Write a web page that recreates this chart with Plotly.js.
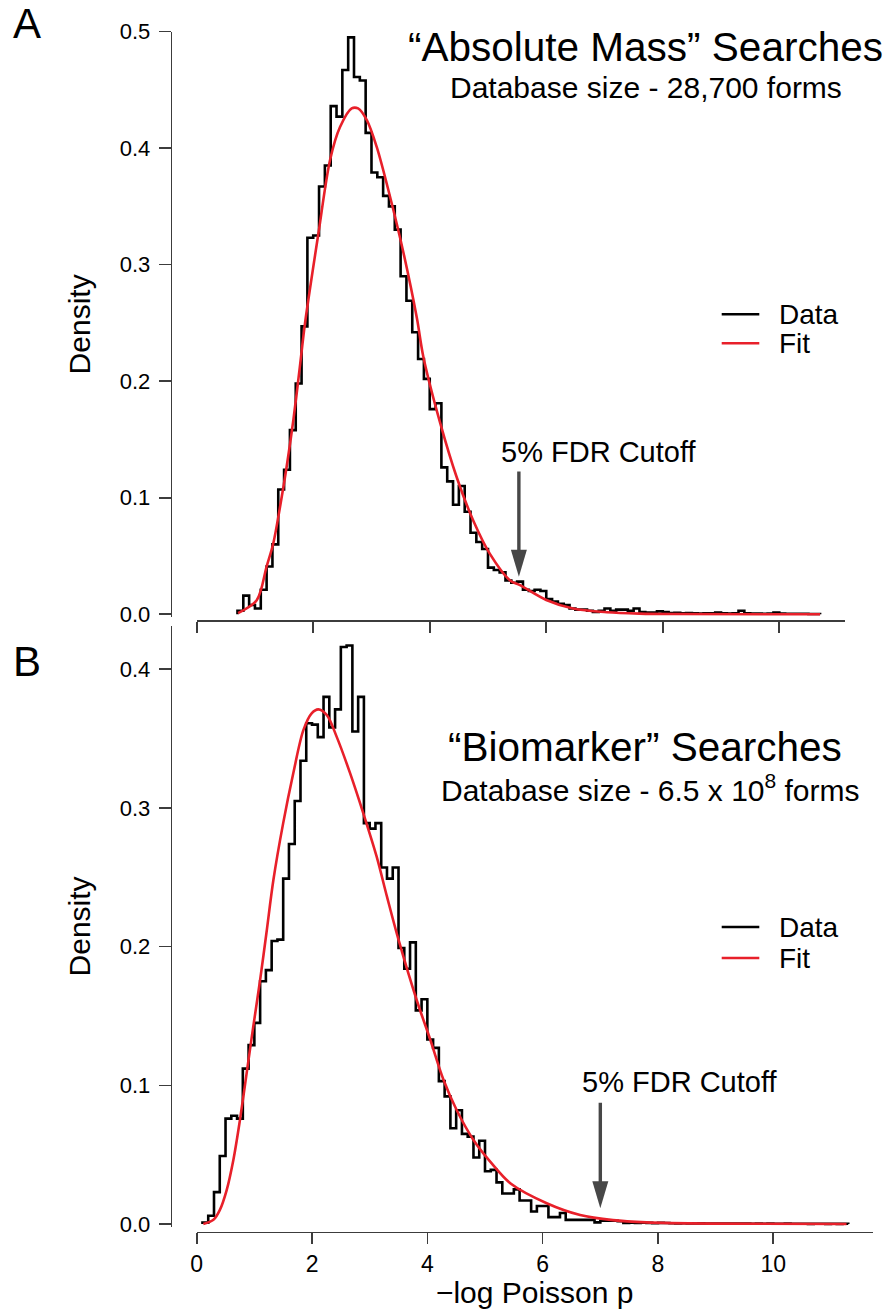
<!DOCTYPE html>
<html>
<head>
<meta charset="utf-8">
<script src="https://cdn.plot.ly/plotly-3.0.1.min.js"></script>
<style>html,body{margin:0;padding:0;background:#fff;}</style>
</head>
<body>
<div id="chart" style="width:889px;height:1309px;"></div>
<script>
// ---------------- DATA ----------------
const binWidth = 0.1;

// Panel A: "Absolute Mass" searches, histogram density (bins of 0.1 starting at 0.7)
const topBinStart = 0.7;
const topDensity = [
  0.003,0.016,0.008,0.005,0.021,0.041,0.060,0.107,0.124,0.158,
  0.198,0.247,0.323,0.325,0.367,0.385,0.436,0.427,0.467,0.495,
  0.461,0.458,0.413,0.379,0.375,0.359,0.350,0.330,0.290,0.269,
  0.242,0.219,0.202,0.176,0.181,0.126,0.114,0.094,0.110,0.088,
  0.070,0.062,0.056,0.040,0.038,0.036,0.029,0.027,0.028,0.021,
  0.020,0.021,0.020,0.013,0.011,0.009,0.008,0.005,0.004,0.004,
  0.003,0.002,0.003,0.005,0.003,0.004,0.004,0.003,0.005,0.002,
  0.0015,0.0015,0.0025,0.002,
  0.001,0.0012,0.0008,0.001,0.0009,0.0007,0.0008,0.0008,0.0015,0.0008,
  0.0006,0.0008,0.003,0.0008,0.0006,0.0007,0.0005,0.0006,0.0015,0.0006,
  0.0005,0.0004,0.0005,0.0004,0.0003,0.0003
];
// Panel A fit curve
const topFitX = [0.71,1.03,1.20,1.315,1.43,1.545,1.66,1.77,1.86,2.09,2.29,2.46,2.66,2.77,2.92,3.09,3.32,3.55,3.78,3.89,4.18,4.46,4.75,5.03,5.38,5.55,6.0,6.46,7.04,7.6,8.2,10.7];
const topFitY = [0.001,0.012,0.041,0.061,0.092,0.127,0.167,0.212,0.250,0.327,0.390,0.418,0.434,0.434,0.424,0.401,0.358,0.310,0.254,0.221,0.164,0.118,0.080,0.052,0.029,0.025,0.0123,0.005,0.0018,0.0006,0.0002,0.0];

// Panel B: "Biomarker" searches, histogram density (bins of 0.1 starting at 0.1)
const bottomBinStart = 0.1;
const bottomDensity = [
  0.001,0.006,0.023,0.049,0.076,0.078,0.076,0.112,0.129,0.145,
  0.175,0.183,0.204,0.205,0.249,0.274,0.305,0.334,0.361,0.360,
  0.351,0.380,0.358,0.371,0.416,0.417,0.355,0.380,0.289,0.285,
  0.289,0.257,0.249,0.257,0.199,0.184,0.203,0.154,0.162,0.133,
  0.127,0.103,0.092,0.069,0.082,0.065,0.063,0.048,0.060,0.038,
  0.039,0.030,0.022,0.022,0.025,0.017,0.017,0.009,0.013,0.013,
  0.005,0.005,0.008,0.003,0.003,0.003,0.003,0.003,0.0012,0.0024,
  0.0024,0.0024,0.002,
  0.0008,0.001,0.0007,0.0009,0.0008,0.0006,0.0008,0.0007,0.0006,0.0005,
  0.0006,0.0005,0.0004,0.0005,0.0004,0.0004,0.0003,0.0004,0.0003,0.0003,
  0.0004,0.0003,0.0002,0.0003,0.0002,0.0003,0.0002,0.0002,0.0003,0.0002,
  0.0002,0.0002,0.0001,0.0002,0.0002,0.0001,0.0002,0.0001,0.0002
];
// Panel B fit curve
const bottomFitX = [0.115,0.29,0.40,0.52,0.635,0.75,0.867,0.98,1.10,1.21,1.33,1.50,1.675,1.85,1.99,2.11,2.255,2.43,2.66,2.89,3.12,3.30,3.50,3.815,4.05,4.28,4.51,4.80,5.09,5.45,6.07,6.65,7.22,7.80,8.96,11.27];
const bottomFitY = [0.000,0.003,0.010,0.0245,0.046,0.075,0.109,0.142,0.176,0.210,0.248,0.289,0.325,0.356,0.368,0.371,0.367,0.351,0.325,0.296,0.265,0.236,0.205,0.1615,0.133,0.104,0.082,0.0606,0.045,0.029,0.015,0.0065,0.0028,0.0012,0.0003,0.0];

// Tick labels / texts
const xTickVals = [0,2,4,6,8,10];
const topYTicks = [0,0.1,0.2,0.3,0.4,0.5];
const bottomYTicks = [0,0.1,0.2,0.3,0.4];
const legendLabels = ['Data','Fit'];
const cutoffTop = {x:5.53, tip:0.0323, tail:0.1225, labelX:6.89, labelY:0.1395};
const cutoffBottom = {x:7.0, tip:0.0113, tail:0.0875, labelX:8.38, labelY:0.1026};

// ---------------- BUILD ----------------
function stepTrace(start, vals, xa, ya){
  const xs=[start], ys=[0];
  for(let i=0;i<vals.length;i++){ xs.push(+(start+i*binWidth).toFixed(4)); ys.push(vals[i]); }
  xs.push(+(start+vals.length*binWidth).toFixed(4)); ys.push(0);
  return {x:xs,y:ys,xaxis:xa,yaxis:ya,type:'scatter',mode:'lines',name:'Data',
    line:{shape:'hv',color:'#000',width:2.6},hoverinfo:'skip'};
}
function fitTrace(xs, ys, xa, ya){
  return {x:xs,y:ys,xaxis:xa,yaxis:ya,type:'scatter',mode:'lines',name:'Fit',
    line:{shape:'spline',smoothing:0.9,color:'#e8202a',width:2.6},hoverinfo:'skip'};
}
const data = [
  stepTrace(topBinStart, topDensity, 'x', 'y'),
  fitTrace(topFitX, topFitY, 'x', 'y'),
  stepTrace(bottomBinStart, bottomDensity, 'x2', 'y2'),
  fitTrace(bottomFitX, bottomFitY, 'x2', 'y2')
];

const W=889, H=1309;
const px = v => v/W, py = v => 1 - v/H;
const FONT = 'Liberation Sans, Arial, Helvetica, sans-serif';
const AX = '#3c3c3c';
const ARROW = '#474747';

const baseAxis = {showline:true, linecolor:AX, linewidth:1.6, ticks:'outside', tickcolor:AX, tickwidth:1.6,
  showgrid:false, zeroline:false, anchor:'free', fixedrange:true};

// pixel scales (used for arrow shaft end)
const topYpx = (617.2-31.5)/(0.5+0.0025);
const botYpx = (1226.8-626)/(0.4311+0.002);

const layout = {
  width:W, height:H, margin:{l:0,r:0,t:0,b:0}, showlegend:false,
  paper_bgcolor:'#fff', plot_bgcolor:'rgba(0,0,0,0)',
  font:{family:FONT, color:'#000'},
  xaxis: Object.assign({}, baseAxis, {domain:[px(196.7), px(845)], range:[0,(845-196.7)/58.26],
    position:py(620), ticklen:11, tickvals:xTickVals, showticklabels:false}),
  yaxis: Object.assign({}, baseAxis, {domain:[py(617.2), py(31.5)], range:[-0.0025,0.5],
    position:px(170.7), ticklen:12, tickvals:topYTicks, tickformat:'.1f', ticklabelstandoff:4,
    tickfont:{size:22, family:FONT, color:'#000'},
    title:{text:'Density', font:{size:30, family:FONT, color:'#000'}, standoff:18}}),
  xaxis2: Object.assign({}, baseAxis, {domain:[px(196.7), px(872.7)], range:[0,(872.7-196.7)/57.66],
    position:py(1231.7), ticklen:11, tickvals:xTickVals, ticklabelstandoff:0,
    tickfont:{size:23, family:FONT, color:'#000'},
    title:{text:'\u2212log Poisson p', font:{size:30, family:FONT, color:'#000'}, standoff:8}}),
  yaxis2: Object.assign({}, baseAxis, {domain:[py(1226.8), py(626)], range:[-0.002,0.4311],
    position:px(170.7), ticklen:12, tickvals:bottomYTicks, tickformat:'.1f', ticklabelstandoff:4,
    tickfont:{size:22, family:FONT, color:'#000'},
    title:{text:'Density', font:{size:30, family:FONT, color:'#000'}, standoff:18}}),
  shapes: [],
  annotations: []
};

// Panel letters & titles
const ann = (text,x,y,size,extra) => Object.assign({text:text, x:px(x), y:py(y), xref:'paper', yref:'paper',
  showarrow:false, xanchor:'center', yanchor:'middle', font:{size:size, family:FONT, color:'#000'}}, extra||{});
layout.annotations.push(
  ann('A', 27, 23, 42),
  ann('B', 27, 661, 42),
  ann('\u201CAbsolute Mass\u201D Searches', 645, 47, 40.5),
  ann('Database size - 28,700 forms', 646, 87, 30),
  ann('\u201CBiomarker\u201D Searches', 645, 747, 40.5),
  ann('Database size - 6.5 x 10<sup>8</sup> forms', 650, 788, 30)
);

// Legends (drawn manually to match the compact spacing)
function legend(yData, yFit){
  layout.shapes.push(
    {type:'line', xref:'paper', yref:'paper', x0:px(721.7), x1:px(759.3), y0:py(yData), y1:py(yData), line:{color:'#000', width:2.6}},
    {type:'line', xref:'paper', yref:'paper', x0:px(721.7), x1:px(759.3), y0:py(yFit), y1:py(yFit), line:{color:'#e8202a', width:2.6}}
  );
  layout.annotations.push(
    ann(legendLabels[0], 777, yData, 28, {xanchor:'left'}),
    ann(legendLabels[1], 777, yFit, 28, {xanchor:'left'})
  );
}
legend(314.3, 343.3);
legend(927, 958);

// FDR cutoff arrows
function cutoff(c, xa, ya, pxPerUnit){
  layout.shapes.push(
    {type:'line', xref:xa, yref:ya, x0:c.x, x1:c.x, y0:c.tail, y1:c.tip + 14/pxPerUnit, line:{color:ARROW, width:3.4}},
    {type:'path', xref:xa, yref:ya, xsizemode:'pixel', ysizemode:'pixel', xanchor:c.x, yanchor:c.tip,
      path:'M-8,27L8,27L0,0Z', fillcolor:ARROW, line:{width:0}}
  );
  layout.annotations.push({text:'5% FDR Cutoff', x:c.labelX, y:c.labelY, xref:xa, yref:ya, showarrow:false,
    xanchor:'center', yanchor:'middle', font:{size:29, family:FONT, color:'#000'}});
}
cutoff(cutoffTop, 'x', 'y', topYpx);
cutoff(cutoffBottom, 'x2', 'y2', botYpx);

Plotly.newPlot('chart', data, layout, {staticPlot:true, displayModeBar:false});
</script>
</body>
</html>
